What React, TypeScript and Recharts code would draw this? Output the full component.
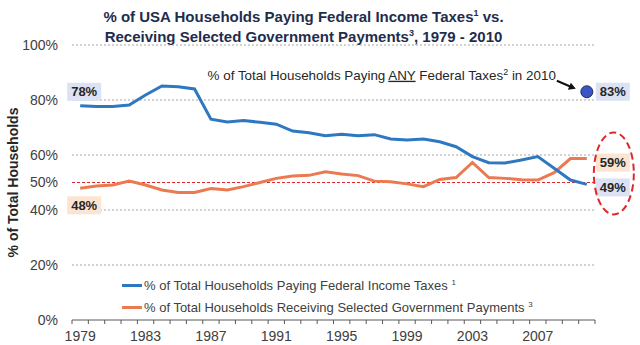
import React from "react";
import {
  ComposedChart,
  Line,
  ReferenceDot,
  ReferenceLine,
  XAxis,
  YAxis,
} from "recharts";

// 1979 - 2010, one value per year
const years = [
  1979, 1980, 1981, 1982, 1983, 1984, 1985, 1986, 1987, 1988, 1989, 1990, 1991, 1992, 1993, 1994,
  1995, 1996, 1997, 1998, 1999, 2000, 2001, 2002, 2003, 2004, 2005, 2006, 2007, 2008, 2009, 2010,
];
const payingIncomeTax = [
  77.9, 77.6, 77.6, 78.2, 81.8, 85.1, 84.8, 84.0, 73.0, 72.0, 72.5, 71.9, 71.2, 68.7, 68.1, 67.0,
  67.5, 67.0, 67.4, 65.8, 65.5, 65.8, 64.8, 63.0, 59.4, 57.2, 57.1, 58.2, 59.4, 55.2, 50.9, 49.3,
];
const receivingPayments = [
  47.9, 48.7, 49.1, 50.5, 49.1, 47.3, 46.4, 46.4, 47.8, 47.3, 48.5, 50.0, 51.5, 52.4, 52.6, 53.9,
  53.1, 52.5, 50.5, 50.3, 49.5, 48.5, 51.1, 51.8, 57.3, 51.8, 51.5, 51.0, 50.9, 53.6, 58.7, 58.7,
];
const payingAnyTax2010 = 83;
const yTicks = [0, 20, 40, 50, 60, 80, 100];
const gridValues = [20, 40, 60, 80, 100];
const halfLine = 50;

const titleLines = [
  ["% of USA Households Paying Federal Income Taxes", "1", " vs."],
  ["Receiving Selected Government Payments", "3", ", 1979 - 2010"],
];
const legendItems = [
  { label: "% of Total Households Paying Federal Income Taxes", note: "1", color: "#2E78C2" },
  { label: "% of Total Households Receiving Selected Government Payments", note: "3", color: "#EB7A51" },
];

const FONT = "'Liberation Sans', Arial, sans-serif";
const BLUE = "#2E78C2";
const ORANGE = "#EB7A51";
const LAVENDER = "#DCE2F3";
const PEACH = "#FCE4D3";
const AXIS = "#595959";

const data = years.map((year, i) => ({
  year,
  tax: payingIncomeTax[i],
  payments: receivingPayments[i],
}));

function ValueBox({ cx, cy, text, bg }: { cx: number; cy: number; text: string; bg: string }) {
  return (
    <g>
      <rect x={cx - 17} y={cy - 9} width={34} height={18} fill={bg} />
      <text
        x={cx}
        y={cy + 4.5}
        textAnchor="middle"
        fontSize={13}
        fontWeight="bold"
        fill="#262626"
        fontFamily={FONT}
      >
        {text}
      </text>
    </g>
  );
}

// boxed value at the first and last point of a series
const endLabels =
  (
    first: { dx: number; dy: number; bg: string },
    last: { dx: number; dy: number; bg: string },
    ring = false
  ) =>
  (props: any) => {
    const { x, y, value, index } = props;
    if (index === 0) {
      return <ValueBox cx={x + first.dx} cy={y + first.dy} text={`${Math.round(value)}%`} bg={first.bg} />;
    }
    if (index === years.length - 1) {
      return (
        <g>
          <ValueBox cx={x + last.dx} cy={y + last.dy} text={`${Math.round(value)}%`} bg={last.bg} />
          {ring && (
            <ellipse
              cx={x + 27}
              cy={y - 11}
              rx={20}
              ry={41}
              fill="none"
              stroke="#E3262B"
              strokeWidth={2}
              strokeDasharray="7 4"
            />
          )}
        </g>
      );
    }
    return null;
  };

function YearTick(props: any) {
  const { x, y, payload, index } = props;
  const half = payload.offset || 8.17;
  const showLabel = (payload.value - years[0]) % 4 === 0;
  return (
    <g>
      <line x1={x - half} x2={x - half} y1={y} y2={y + 4} stroke={AXIS} />
      {index === years.length - 1 && <line x1={x + half} x2={x + half} y1={y} y2={y + 4} stroke={AXIS} />}
      {showLabel && (
        <text x={x} y={y + 21} textAnchor="middle" fontSize={14} fill="#404040" fontFamily={FONT}>
          {payload.value}
        </text>
      )}
    </g>
  );
}

function AnyTaxLabel(props: any) {
  const { viewBox } = props;
  const cx = viewBox.x + viewBox.width / 2;
  const cy = viewBox.y + viewBox.height / 2;
  return (
    <g fontFamily={FONT}>
      <text x={cx - 31} y={cy - 12} textAnchor="end" fontSize={13.4} fill="#262626">
        % of Total Households Paying{" "}
        <tspan textDecoration="underline">ANY</tspan> Federal Taxes
        <tspan fontSize={9} dy={-5}>2</tspan>
        <tspan dy={5}> in 2010</tspan>
      </text>
      <line x1={cx - 30} y1={cy - 11} x2={cx - 16} y2={cy - 5} stroke="#111" strokeWidth={2} />
      <polygon
        points={`${cx - 11},${cy - 3} ${cx - 19},${cy - 2} ${cx - 16},${cy - 9}`}
        fill="#111"
      />
      <ValueBox cx={cx + 26} cy={cy} text={`${payingAnyTax2010}%`} bg={LAVENDER} />
    </g>
  );
}

export default function App() {
  return (
    <div
      style={{
        position: "absolute",
        left: 0,
        top: 0,
        width: 640,
        height: 345,
        background: "#fff",
        fontFamily: FONT,
      }}
    >
      <div
        style={{
          position: "absolute",
          left: 0,
          top: 7,
          width: 607,
          textAlign: "center",
          fontSize: 15,
          fontWeight: "bold",
          color: "#1F2D4D",
          lineHeight: "20px",
        }}
      >
        {titleLines.map(([a, sup, b]) => (
          <div key={a}>
            {a}
            <sup style={{ fontSize: 9, lineHeight: 0 }}>{sup}</sup>
            {b}
          </div>
        ))}
      </div>

      <div style={{ position: "absolute", left: 0, top: 0 }}>
        <ComposedChart width={640} height={345} data={data} margin={{ top: 45, right: 45, left: 0, bottom: 0 }}>
          {gridValues.map((v) => (
            <ReferenceLine key={v} y={v} stroke="#A6A6A6" strokeDasharray="2 2" />
          ))}
          <ReferenceLine y={halfLine} stroke="#E3262B" strokeDasharray="3 2" />
          <XAxis
            dataKey="year"
            scale="band"
            interval={0}
            tickSize={0}
            tickMargin={0}
            tickLine={false}
            axisLine={{ stroke: AXIS }}
            height={25}
            tick={<YearTick />}
          />
          <YAxis
            domain={[0, 100]}
            ticks={yTicks}
            interval={0}
            width={72}
            axisLine={false}
            tickLine={false}
            tickSize={6}
            tickMargin={8}
            tickFormatter={(v: number) => `${v}%`}
            tick={{ fontSize: 14, fill: "#404040", fontFamily: FONT }}
            label={(p: any) => {
              const vb = p.viewBox;
              const cy = vb.y + vb.height / 2;
              return (
                <text
                  x={13}
                  y={cy}
                  transform={`rotate(-90 13 ${cy})`}
                  textAnchor="middle"
                  dy="0.35em"
                  fontSize={14}
                  fontWeight="bold"
                  fill="#262626"
                  fontFamily={FONT}
                >
                  % of Total Households
                </text>
              );
            }}
          />
          <Line
            dataKey="payments"
            stroke={ORANGE}
            strokeWidth={3}
            dot={false}
            activeDot={false}
            isAnimationActive={false}
            label={endLabels({ dx: 4, dy: 17, bg: PEACH }, { dx: 26, dy: 4, bg: PEACH })}
          />
          <Line
            dataKey="tax"
            stroke={BLUE}
            strokeWidth={3}
            dot={false}
            activeDot={false}
            isAnimationActive={false}
            label={endLabels({ dx: 4, dy: -14, bg: LAVENDER }, { dx: 26, dy: 3, bg: LAVENDER }, true)}
          />
          <ReferenceDot
            x={years[years.length - 1]}
            y={payingAnyTax2010}
            r={6}
            fill="#3A56C4"
            stroke="#1F2D6B"
            strokeWidth={1}
            label={<AnyTaxLabel />}
          />
        </ComposedChart>
      </div>

      <div style={{ position: "absolute", left: 122, top: 274, fontSize: 13, color: "#404040" }}>
        {legendItems.map((it) => (
          <div key={it.label} style={{ display: "flex", alignItems: "center", height: 22 }}>
            <span style={{ display: "inline-block", width: 20, height: 3, background: it.color, marginRight: 2 }} />
            <span>
              {it.label} <sup style={{ fontSize: 8, lineHeight: 0 }}>{it.note}</sup>
            </span>
          </div>
        ))}
      </div>
    </div>
  );
}
